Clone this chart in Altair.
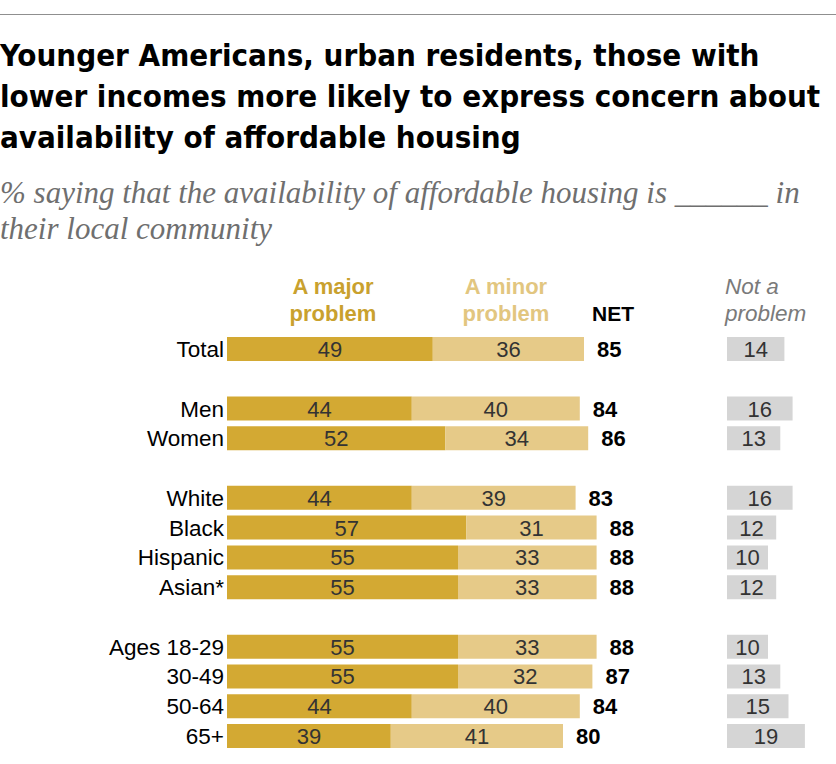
import altair as alt
import pandas as pd

# ---- data ----
groups = [
    ["Total"],
    ["Men", "Women"],
    ["White", "Black", "Hispanic", "Asian*"],
    ["Ages 18-29", "30-49", "50-64", "65+"],
]
categories = [c for g in groups for c in g]
major = [49, 44, 52, 44, 57, 55, 55, 55, 55, 44, 39]
minor = [36, 40, 34, 39, 31, 33, 33, 33, 32, 40, 41]
net = [85, 84, 86, 83, 88, 88, 88, 88, 87, 84, 80]
not_problem = [14, 16, 13, 16, 12, 10, 12, 10, 13, 15, 19]

title_lines = [
    "Younger Americans, urban residents, those with",
    "lower incomes more likely to express concern about",
    "availability of affordable housing",
]
subtitle_lines = [
    "% saying that the availability of affordable housing is ______ in",
    "their local community",
]

# row domain with blank spacer rows between groups
row_domain = []
for i, g in enumerate(groups):
    if i > 0:
        row_domain.append(f"__gap{i}")
    row_domain.extend(g)

seg_rows = []
for c, a, b in zip(categories, major, minor):
    seg_rows.append({"row": c, "seg": "A major problem", "start": 0, "end": a, "val": a})
    seg_rows.append({"row": c, "seg": "A minor problem", "start": a, "end": a + b, "val": b})
seg_df = pd.DataFrame(seg_rows)
net_df = pd.DataFrame({"row": categories, "net": net})
np_df = pd.DataFrame({"row": categories, "start": [0] * len(categories), "val": not_problem})

MAJOR = "#d3a933"
MINOR = "#e6ca88"
GRAY = "#d5d5d5"
SANS = "Liberation Sans, Arial, sans-serif"
COND = "DejaVu Sans Condensed, DejaVu Sans, sans-serif"

yscale = alt.Scale(domain=row_domain, range=[334.1, 750.9], paddingInner=0.194, paddingOuter=0.097)
Y = alt.Y("row:N", scale=yscale, axis=None)
xmain = alt.Scale(domain=[0, 100], range=[227, 647])
xnp = alt.Scale(domain=[0, 20], range=[727, 809])

top_rule = alt.Chart(pd.DataFrame({"a": [0]})).mark_rule(color="#8f8f8f", strokeWidth=1).encode(
    x=alt.value(0), x2=alt.value(836), y=alt.value(14.5)
)

title = alt.Chart(pd.DataFrame({"a": [0]})).mark_text(
    align="left", baseline="alphabetic", font=COND, fontWeight="bold", fontSize=31,
    lineHeight=41, color="#000000", lineBreak="\n"
).encode(x=alt.value(0), y=alt.value(66), text=alt.value("\n".join(title_lines)))

subtitle = alt.Chart(pd.DataFrame({"a": [0]})).mark_text(
    align="left", baseline="alphabetic", font="Liberation Serif, serif", fontStyle="italic",
    fontSize=31, lineHeight=36, color="#6f6f6f", lineBreak="\n"
).encode(x=alt.value(0), y=alt.value(203), text=alt.value("\n".join(subtitle_lines)))

hdr_major = alt.Chart(pd.DataFrame({"a": [0]})).mark_text(
    align="center", baseline="alphabetic", font=SANS, fontWeight="bold", fontSize=22,
    lineHeight=27, color="#c9a12e", lineBreak="\n"
).encode(x=alt.value(333), y=alt.value(294), text=alt.value("A major\nproblem"))

hdr_minor = alt.Chart(pd.DataFrame({"a": [0]})).mark_text(
    align="center", baseline="alphabetic", font=SANS, fontWeight="bold", fontSize=22,
    lineHeight=27, color="#e2c67f", lineBreak="\n"
).encode(x=alt.value(506), y=alt.value(294), text=alt.value("A minor\nproblem"))

hdr_net = alt.Chart(pd.DataFrame({"a": [0]})).mark_text(
    align="left", baseline="alphabetic", font=SANS, fontWeight="bold", fontSize=21,
    color="#000000"
).encode(x=alt.value(592), y=alt.value(321), text=alt.value("NET"))

hdr_np = alt.Chart(pd.DataFrame({"a": [0]})).mark_text(
    align="left", baseline="alphabetic", font=SANS, fontStyle="italic", fontSize=22.5,
    lineHeight=27, color="#7a7a7a", lineBreak="\n"
).encode(x=alt.value(725), y=alt.value(294), text=alt.value("Not a\nproblem"))

bars = alt.Chart(seg_df).mark_bar(size=24).encode(
    x=alt.X("start:Q", scale=xmain, axis=None),
    x2="end:Q",
    y=Y,
    color=alt.Color("seg:N", scale=alt.Scale(domain=["A major problem", "A minor problem"], range=[MAJOR, MINOR]), legend=None),
)

bar_text = alt.Chart(seg_df).transform_calculate(mid="(datum.start + datum.end) / 2").mark_text(
    font=SANS, fontSize=22, color="#333333", baseline="middle", align="center", dy=1
).encode(x=alt.X("mid:Q", scale=xmain, axis=None), y=Y, text="val:Q")

net_text = alt.Chart(net_df).mark_text(
    font=SANS, fontWeight="bold", fontSize=22, color="#000000", baseline="middle", align="left", dx=13, dy=1
).encode(x=alt.X("net:Q", scale=xmain, axis=None), y=Y, text="net:Q")

cat_text = alt.Chart(net_df).mark_text(
    font=SANS, fontSize=22.5, color="#000000", baseline="middle", align="right", dy=1
).encode(x=alt.value(224), y=Y, text="row:N")

np_bars = alt.Chart(np_df).mark_bar(size=24, color=GRAY).encode(
    x=alt.X("start:Q", scale=xnp, axis=None), x2="val:Q", y=Y
)
np_text = alt.Chart(np_df).transform_calculate(mid="datum.val / 2").mark_text(
    font=SANS, fontSize=22, color="#333333", baseline="middle", align="center", dy=1
).encode(x=alt.X("mid:Q", scale=xnp, axis=None), y=Y, text="val:Q")

main = alt.layer(bars, bar_text, net_text).resolve_scale(x="shared")
side = alt.layer(np_bars, np_text)

chart = alt.layer(
    top_rule, title, subtitle, hdr_major, hdr_minor, hdr_net, hdr_np, cat_text, main, side
).resolve_scale(x="independent").properties(
    width=836, height=764, padding=0, autosize=alt.AutoSizeParams(type="none"),
    background="#ffffff"
).configure_view(stroke=None)

chart.save("out.html", embed_options={"renderer": "svg", "actions": False})
